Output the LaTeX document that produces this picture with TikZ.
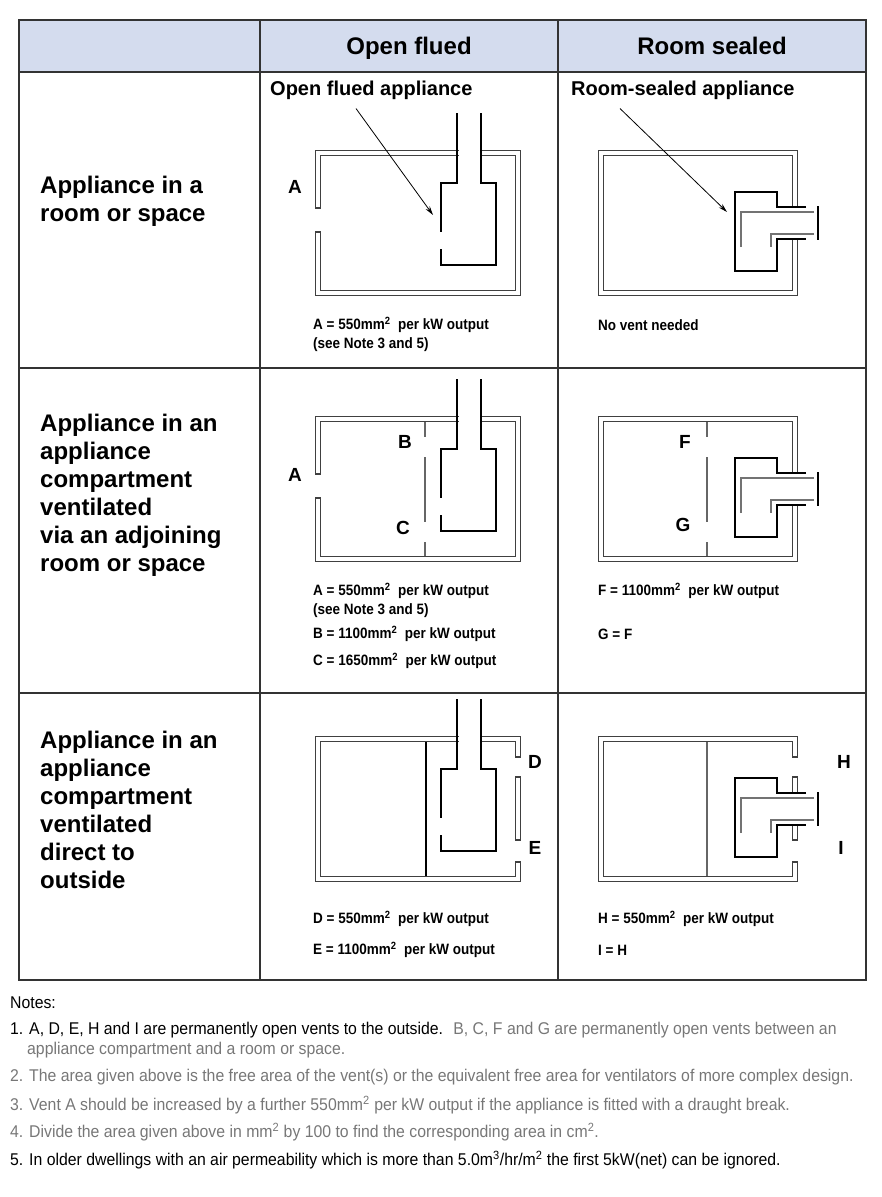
\documentclass[tikz,border=0pt]{standalone}
\usepackage{fontspec}
\setmainfont{Liberation Sans}
\newfontfamily\narrowf[FakeStretch=0.9]{Liberation Sans}
\newfontfamily\notef[FakeStretch=0.93]{Liberation Sans}
\usetikzlibrary{arrows.meta}
\definecolor{hdr}{HTML}{D4DCEE}
\definecolor{ngray}{HTML}{777777}
\begin{document}
\begin{tikzpicture}[x=1pt,y=-1pt,
  wall/.style={draw=black!75,line width=1.1pt,double=white,double distance=4pt},
  vcap/.style={draw=black!75,line width=1.1pt},
  app/.style={draw=black,line width=1.1pt},
  inner/.style={draw=black!55,line width=1.8pt},
  part/.style={draw=black!60,line width=1.1pt},
  arr/.style={draw=black,line width=0.8pt,-{Stealth[length=9pt,width=5pt]}},
  head/.style={font=\fontsize{24}{24}\selectfont\bfseries,anchor=base,inner sep=0pt},
  rowlab/.style={font=\fontsize{24}{28}\selectfont\bfseries,anchor=north west,align=left,inner sep=0pt},
  vlab/.style={font=\fontsize{19}{19}\selectfont\bfseries,anchor=center,inner sep=0pt},
  sublab/.style={font=\fontsize{20}{20}\selectfont\bfseries,anchor=west,inner sep=0pt},
  val/.style={font=\narrowf\fontsize{15}{15}\selectfont\bfseries,anchor=west,inner sep=0pt},
  note/.style={font=\notef\fontsize{17}{20}\selectfont,anchor=west,inner sep=0pt,align=left}]
\useasboundingbox (0,0) rectangle (882,1197);
% table
\fill[hdr] (19,20) rectangle (866,72);
\draw[black!80,line width=1.4pt] (19,20) rectangle (866,980);
\draw[black!80,line width=1.4pt] (19,72)--(866,72) (19,368)--(866,368) (19,693)--(866,693);
\draw[black!80,line width=1.4pt] (260,20)--(260,980) (558,20)--(558,980);
\node[head] (h1) at (409,54) {Open flued};
\node[head] (h2) at (712,54) {Room sealed};
\node[rowlab] (r1) at (40,176) {Appliance in a\\room or space};
\node[rowlab] (r2) at (40,414) {Appliance in an\\appliance\\compartment\\ventilated\\via an adjoining\\room or space};
\node[rowlab] (r3) at (40,731) {Appliance in an\\appliance\\compartment\\ventilated\\direct to\\outside};
% ---------- open flued
\node[sublab] (of) at (270,90) {Open flued appliance};
\node[sublab] (rs) at (571,90) {Room-sealed appliance};
\foreach \s in {0,266}{
\begin{scope}[yshift=-\s pt]
\draw[wall] (318,232)--(318,293)--(518,293)--(518,153)--(318,153)--(318,208);
\draw[vcap] (315,208)--(321,208) (315,232)--(321,232);
\end{scope}}
\begin{scope}[yshift=-586pt]
\draw[wall] (518,171)--(518,153)--(318,153)--(318,293)--(518,293)--(518,276);
\draw[wall] (518,191)--(518,254);
\draw[vcap] (515,171)--(521,171) (515,191)--(521,191) (515,254)--(521,254) (515,276)--(521,276);
\draw[app] (426,156)--(426,290);
\end{scope}
\begin{scope}[yshift=-266pt]
\draw[part] (425,156)--(425,171) (425,191)--(425,256) (425,276)--(425,290);
\end{scope}
\foreach \s in {0,266,586}{
\begin{scope}[yshift=-\s pt]
\fill[white] (458.5,148) rectangle (479.5,159);
\draw[app] (457,113)--(457,183)--(441,183)--(441,232);
\draw[app] (441,249)--(441,265)--(496,265)--(496,183)--(481,183)--(481,113);
\end{scope}}
\draw[arr] (of.south west)++(86,9) coordinate (a1s) -- (433,215);
% ---------- room sealed
\foreach \s in {0,266}{
\begin{scope}[yshift=-\s pt]
\draw[wall] (795,239)--(795,293)--(601,293)--(601,153)--(795,153)--(795,207);
\end{scope}}
\begin{scope}[yshift=-586pt]
\draw[wall] (795,171)--(795,153)--(601,153)--(601,293)--(795,293)--(795,276);
\draw[wall] (795,191)--(795,207);
\draw[wall] (795,239)--(795,254);
\draw[vcap] (792,171)--(798,171) (792,191)--(798,191) (792,254)--(798,254) (792,276)--(798,276);
\draw[part] (707,156)--(707,290);
\end{scope}
\begin{scope}[yshift=-266pt]
\draw[part] (707,156)--(707,171) (707,191)--(707,256) (707,276)--(707,290);
\end{scope}
\foreach \s in {0,266,586}{
\begin{scope}[yshift=-\s pt]
\draw[app] (806,207)--(777,207)--(777,192)--(735,192)--(735,271)--(777,271)--(777,239)--(806,239);
\draw[inner] (741,247)--(741,212)--(814,212);
\draw[inner] (814,234)--(771,234)--(771,247);
\draw[app] (818,206)--(818,240);
\end{scope}}
\draw[arr] (rs.south west)++(49,9) coordinate (a2s) -- (727,212);
% vent labels
\node[vlab] (lA1) at (295,187) {A};
\node[vlab] (lA2) at (295,475) {A};
\node[vlab] (lB) at (405,442) {B};
\node[vlab] (lC) at (403,528) {C};
\node[vlab] (lF) at (685,442) {F};
\node[vlab] (lG) at (683,525) {G};
\node[vlab] (lD) at (535,762) {D};
\node[vlab] (lE) at (535,848) {E};
\node[vlab] (lH) at (844,762) {H};
\node[vlab] (lI) at (841,848) {I};
% values
\node[val] (v1) at (313,325) {A = 550mm\textsuperscript{2}\ \ per kW output};
\node[val] (v2) at (313,345) {(see Note 3 and 5)};
\node[val] (v3) at (598,325) {No vent needed};
\node[val] (v4) at (313,591) {A = 550mm\textsuperscript{2}\ \ per kW output};
\node[val] (v5) at (313,611) {(see Note 3 and 5)};
\node[val] (v6) at (313,634) {B = 1100mm\textsuperscript{2}\ \ per kW output};
\node[val] (v7) at (313,661) {C = 1650mm\textsuperscript{2}\ \ per kW output};
\node[val] (v8) at (598,591) {F = 1100mm\textsuperscript{2}\ \ per kW output};
\node[val] (v9) at (598,634) {G = F};
\node[val] (v10) at (313,919) {D = 550mm\textsuperscript{2}\ \ per kW output};
\node[val] (v11) at (313,950) {E = 1100mm\textsuperscript{2}\ \ per kW output};
\node[val] (v12) at (598,919) {H = 550mm\textsuperscript{2}\ \ per kW output};
\node[val] (v13) at (598,950) {I = H};
% notes
\node[note] (n0) at (10,1003) {Notes:};
\node[note,anchor=north west] (n1) at (10,1022) {1. A, D, E, H and I are permanently open vents to the outside. \ \textcolor{ngray}{B, C, F and G are permanently open vents between an}\\\hspace*{17pt}\textcolor{ngray}{appliance compartment and a room or space.}};
\node[note,text=ngray] (n2) at (10,1077) {2. The area given above is the free area of the vent(s) or the equivalent free area for ventilators of more complex design.};
\node[note,text=ngray] (n3) at (10,1105) {3. Vent A should be increased by a further 550mm\textsuperscript{2} per kW output if the appliance is fitted with a draught break.};
\node[note,text=ngray] (n4) at (10,1132) {4. Divide the area given above in mm\textsuperscript{2} by 100 to find the corresponding area in cm\textsuperscript{2}.};
\node[note] (n5) at (10,1160) {5. In older dwellings with an air permeability which is more than 5.0m\textsuperscript{3}/hr/m\textsuperscript{2} the first 5kW(net) can be ignored.};
\end{tikzpicture}
\end{document}
